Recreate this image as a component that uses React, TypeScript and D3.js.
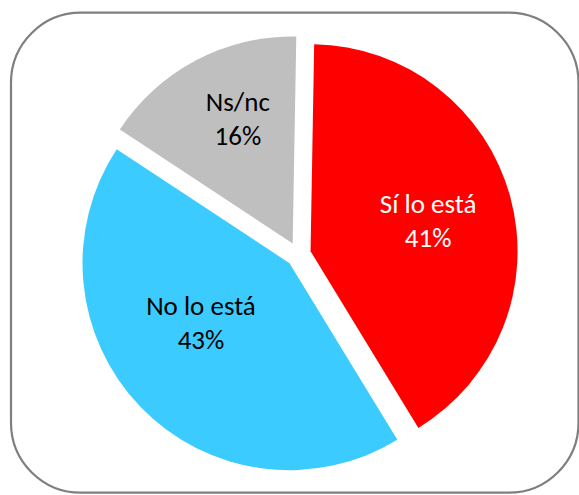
import * as d3 from "d3";
import { useEffect, useRef } from "react";

const categories = ["Sí lo está", "No lo está", "Ns/nc"];
const values = [41, 43, 16];
const percentLabels = ["41%", "43%", "16%"];

const COLORS = ["#ff0000", "#3ccbfe", "#bfbfbf"];
const TEXT_COLORS = ["#ffffff", "#000000", "#000000"];
// Excel "best fit" label placement: radius ratio + angular nudge (deg) per slice
const LABEL_POS = [
  { r: 0.586, nudge: 1 },
  { r: 0.516, nudge: 10 },
  { r: 0.656, nudge: 4 },
];

const WIDTH = 579;
const HEIGHT = 495;

export default function App() {
  const ref = useRef<SVGSVGElement>(null);

  useEffect(() => {
    if (!ref.current) return;
    const svg = d3.select(ref.current);
    svg.selectAll("*").remove();

    svg
      .append("rect")
      .attr("x", 11)
      .attr("y", 12.7)
      .attr("width", 567.5)
      .attr("height", 480)
      .attr("rx", 70)
      .attr("fill", "#fff")
      .attr("stroke", "#7f7f7f")
      .attr("stroke-width", 2.2);

    const cx = 298.5;
    const cy = 254.5;
    const radius = 207;
    const explode = 12.5;
    const rot = (1 * Math.PI) / 180;

    const data = categories.map((c, i) => ({ label: c, value: values[i], pct: percentLabels[i], i }));

    const pie = d3
      .pie<(typeof data)[number]>()
      .value((d) => d.value)
      .sort(null)
      .startAngle(rot)
      .endAngle(2 * Math.PI + rot);

    const arc = d3
      .arc<d3.PieArcDatum<(typeof data)[number]>>()
      .innerRadius(0)
      .outerRadius(radius);

    const g = svg.append("g").attr("transform", `translate(${cx},${cy})`);

    const slices = g
      .selectAll(".slice")
      .data(pie(data))
      .join("g")
      .attr("class", "slice")
      .attr("transform", (d) => {
        const mid = (d.startAngle + d.endAngle) / 2;
        return `translate(${explode * Math.sin(mid)},${-explode * Math.cos(mid)})`;
      });

    slices
      .append("path")
      .attr("d", arc)
      .attr("fill", (d) => COLORS[d.data.i]);

    const lineGap = 34;
    const capH = 17.4;

    slices.each(function (d) {
      const pos = LABEL_POS[d.data.i];
      const a = (d.startAngle + d.endAngle) / 2 + (pos.nudge * Math.PI) / 180;
      const lx = pos.r * radius * Math.sin(a);
      const ly = -pos.r * radius * Math.cos(a);
      const t = d3
        .select(this)
        .append("text")
        .attr("text-anchor", "middle")
        .style("font-family", "Carlito, Calibri, 'Open Sans', sans-serif")
        .style("font-size", "27px")
        .attr("fill", TEXT_COLORS[d.data.i]);
      const y1 = ly + (capH - lineGap) / 2;
      t.append("tspan").attr("x", lx).attr("y", y1).text(d.data.label);
      t.append("tspan").attr("x", lx).attr("y", y1 + lineGap).text(d.data.pct);
    });
  }, []);

  return (
    <svg
      ref={ref}
      width={WIDTH}
      height={HEIGHT}
      style={{ position: "fixed", left: 0, top: 0, display: "block", background: "#fff" }}
    />
  );
}
